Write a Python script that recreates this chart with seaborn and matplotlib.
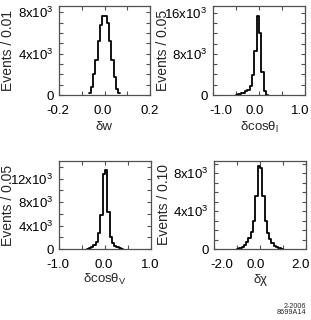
import numpy as np
import pandas as pd
import matplotlib
matplotlib.use("Agg")
import matplotlib.pyplot as plt
import matplotlib.transforms as mtransforms
import seaborn as sns
from matplotlib.ticker import MultipleLocator, FixedLocator, FixedFormatter, FormatStrFormatter

sns.set_theme(style="ticks")
plt.rcParams['font.family'] = ['Liberation Sans', 'DejaVu Sans']
plt.rcParams['mathtext.fontset'] = 'custom'
plt.rcParams['mathtext.rm'] = 'Liberation Sans'
plt.rcParams['mathtext.it'] = 'Liberation Sans:italic'
plt.rcParams['mathtext.default'] = 'regular'
plt.rcParams['axes.unicode_minus'] = False

# ---------------- data ----------------
# delta w : bin width 0.01, first bin lower edge -0.07
w_lo, w_width = -0.07, 0.01
w_counts = [230, 800, 2000, 3400, 5200, 6800, 7600, 7600, 7000, 5200, 3400, 1700, 600, 160]

# delta cos theta_l : bin width 0.05, first bin lower edge -0.50
cl_lo, cl_width = -0.50, 0.05
cl_counts = [60, 150, 300, 480, 700, 1000, 1700, 3800, 8600, 15400, 12000, 4400, 700, 60]

# delta cos theta_V : bin width 0.05, first bin lower edge -0.40
cv_lo, cv_width = -0.40, 0.05
cv_counts = [80, 170, 340, 680, 1240, 2650, 5800, 12700, 13450, 6300, 2080, 960, 500, 280, 150, 70]

# delta chi : bin width 0.10, first bin lower edge -1.0
chi_lo, chi_width = -1.0, 0.10
chi_counts = [40, 110, 255, 440, 730, 1165, 1780, 2985, 5600, 8740, 8550, 5600, 2985, 1710,
              1055, 620, 364, 180, 70, 20]

panels = [
    dict(lo=w_lo, width=w_width, counts=w_counts, xlim=(-0.2, 0.2), xticks=[-0.2, 0.0, 0.2], xmin=0.1,
         ylim=(0, 8600), yticks=[0, 4000, 8000], ylabels=["0", "4x10$^3$", "8x10$^3$"], ymin=1000,
         ylabel="Events / 0.01", xlabel="δw", pos=[59, 6, 150, 95], ylx=8.5, xly=127,
         xshift=[-1.5, -1.5, 0]),
    dict(lo=cl_lo, width=cl_width, counts=cl_counts, xlim=(-1.0, 1.0), xticks=[-1.0, 0.0, 1.0], xmin=0.5,
         ylim=(0, 17300), yticks=[0, 8000, 16000], ylabels=["0", "8x10$^3$", "16x10$^3$"], ymin=2000,
         ylabel="Events / 0.05", xlabel="δcosθ$_l$", pos=[213, 6, 305, 95], ylx=163, xly=127,
         xshift=[8, -4.5, -4.5]),
    dict(lo=cv_lo, width=cv_width, counts=cv_counts, xlim=(-1.0, 1.0), xticks=[-1.0, 0.0, 1.0], xmin=0.5,
         ylim=(0, 15000), yticks=[0, 4000, 8000, 12000],
         ylabels=["0", "4x10$^3$", "8x10$^3$", "12x10$^3$"], ymin=2000,
         ylabel="Events / 0.05", xlabel="δcosθ$_V$", pos=[59, 161, 151, 249], ylx=8.5, xly=279,
         xshift=[-1.5, -1.5, -1]),
    dict(lo=chi_lo, width=chi_width, counts=chi_counts, xlim=(-2.0, 2.0), xticks=[-2.0, 0.0, 2.0], xmin=1.0,
         ylim=(0, 9300), yticks=[0, 4000, 8000], ylabels=["0", "4x10$^3$", "8x10$^3$"], ymin=1000,
         ylabel="Events / 0.10", xlabel="δχ", pos=[214, 161, 306, 249], ylx=163.5, xly=280,
         xshift=[8, -4.5, -5]),
]

W, H = 311, 320
fig = plt.figure(figsize=(W / 100, H / 100), dpi=100)
frame_col = "#505050"
axes = []

for p in panels:
    x0, y0, x1, y1 = p["pos"]
    ax = fig.add_axes([x0 / W, 1 - y1 / H, (x1 - x0) / W, (y1 - y0) / H])
    axes.append(ax)
    n = len(p["counts"])
    centers = p["lo"] + p["width"] * (np.arange(n) + 0.5)
    df = pd.DataFrame({"x": centers, "n": np.asarray(p["counts"], dtype=float)})
    sns.histplot(data=df, x="x", weights="n", binwidth=p["width"],
                 binrange=(p["lo"], p["lo"] + n * p["width"] - 1e-9),
                 element="step", fill=False, color="black", linewidth=1.3, ax=ax)
    ax.set_xlim(*p["xlim"])
    ax.set_ylim(*p["ylim"])
    ax.xaxis.set_major_locator(FixedLocator(p["xticks"]))
    ax.xaxis.set_minor_locator(MultipleLocator(p["xmin"]))
    ax.xaxis.set_major_formatter(FormatStrFormatter("%.1f"))
    ax.yaxis.set_major_locator(FixedLocator(p["yticks"]))
    ax.yaxis.set_major_formatter(FixedFormatter(p["ylabels"]))
    ax.yaxis.set_minor_locator(MultipleLocator(p["ymin"]))
    ax.tick_params(which="both", direction="in", top=True, right=True, length=3.2,
                   width=0.8, color=frame_col, labelcolor="black", labelsize=9.5)
    ax.tick_params(axis="x", pad=7)
    ax.tick_params(axis="y", pad=4)
    for s in ax.spines.values():
        s.set_color(frame_col)
        s.set_linewidth(0.9)
    ax.set_ylabel(p["ylabel"], fontsize=10, va="center")
    ax.set_xlabel(p["xlabel"], fontsize=9.5, va="center")
    ax.yaxis.set_label_coords((p["ylx"] - x0) / (x1 - x0), 0.5)
    ax.xaxis.set_label_coords(0.5, -(p["xly"] - y1) / (y1 - y0))

fig.text(306 / W, 1 - 306 / H, "2-2006", ha="right", va="center", fontsize=5.2)
fig.text(306 / W, 1 - 313 / H, "8699A14", ha="right", va="center", fontsize=5.2)

fig.canvas.draw()
for ax, p in zip(axes, panels):
    ticks = ax.xaxis.get_major_ticks()
    for tick, dx in zip(ticks, p["xshift"]):
        off = mtransforms.ScaledTranslation(dx / 100, 0, fig.dpi_scale_trans)
        tick.label1.set_transform(tick.label1.get_transform() + off)

fig.savefig("out.png", dpi=100)
